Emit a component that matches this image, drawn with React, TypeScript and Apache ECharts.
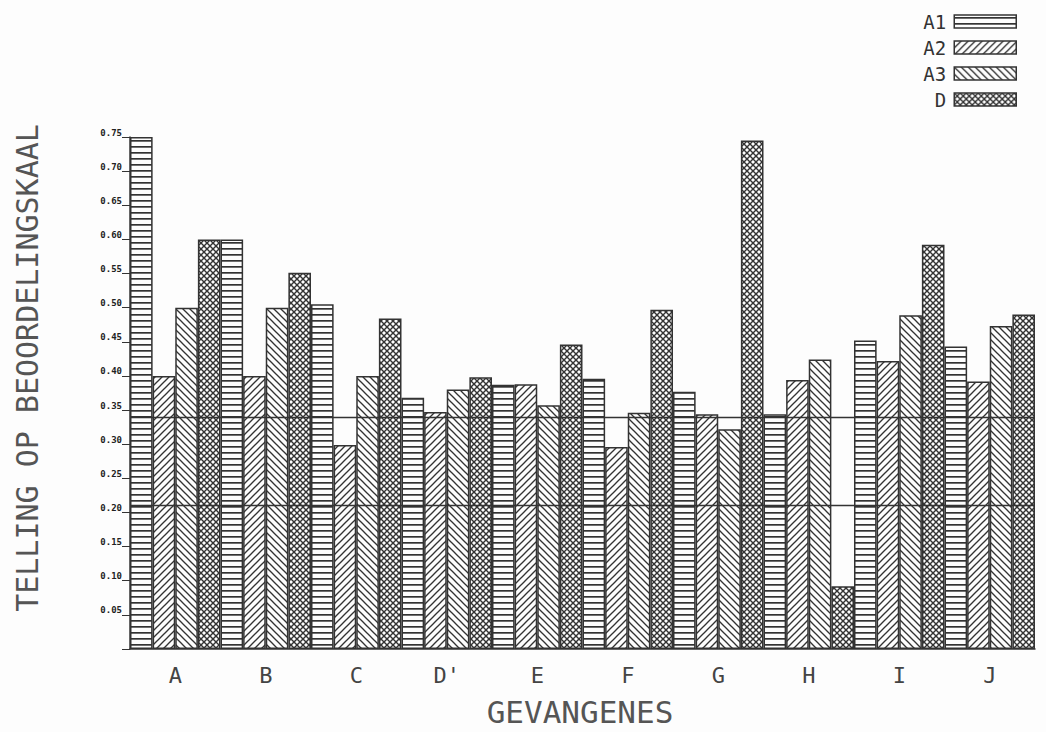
import React, { useEffect, useRef } from "react";
import * as echarts from "echarts";

const categories = ["A", "B", "C", "D'", "E", "F", "G", "H", "I", "J"];
const seriesNames = ["A1", "A2", "A3", "D"];
const valuesA1 = [0.75, 0.6, 0.505, 0.368, 0.387, 0.396, 0.377, 0.344, 0.452, 0.443];
const valuesA2 = [0.4, 0.4, 0.299, 0.347, 0.388, 0.296, 0.344, 0.394, 0.422, 0.392];
const valuesA3 = [0.5, 0.5, 0.4, 0.38, 0.357, 0.346, 0.322, 0.424, 0.489, 0.473];
const valuesD = [0.6, 0.551, 0.484, 0.398, 0.446, 0.497, 0.745, 0.092, 0.592, 0.49];
const referenceLines = [0.335, 0.215];
const yMin = 0;
const yMax = 0.75;
const yStep = 0.05;
const yAxisTitle = "TELLING OP BEOORDELINGSKAAL";
const xAxisTitle = "GEVANGENES";

const INK = "#333";
const PAPER = "#fdfdfd";
const MONO = "DejaVu Sans Mono";

function pattern(inner: string, w: number, h: number) {
  const svg =
    `<svg xmlns="http://www.w3.org/2000/svg" width="${w}" height="${h}">` +
    `<rect width="${w}" height="${h}" fill="${PAPER}"/>${inner}</svg>`;
  return {
    image: "data:image/svg+xml;charset=utf-8," + encodeURIComponent(svg),
    repeat: "repeat",
    imageWidth: w,
    imageHeight: h,
  };
}

const patHoriz = pattern(`<rect x="0" y="2" width="6" height="1.7" fill="${INK}"/>`, 6, 6);
const patSlash = pattern(
  `<g stroke="${INK}" stroke-width="1.3"><line x1="0" y1="7" x2="7" y2="0"/><line x1="-1" y1="1" x2="1" y2="-1"/><line x1="6" y1="8" x2="8" y2="6"/></g>`,
  7,
  7
);
const patBack = pattern(
  `<g stroke="${INK}" stroke-width="1.3"><line x1="0" y1="0" x2="7" y2="7"/><line x1="-1" y1="6" x2="1" y2="8"/><line x1="6" y1="-1" x2="8" y2="1"/></g>`,
  7,
  7
);
const patCross = pattern(
  `<g stroke="${INK}" stroke-width="1.4"><line x1="0" y1="0" x2="6" y2="6"/><line x1="0" y1="6" x2="6" y2="0"/><line x1="-1" y1="5" x2="1" y2="7"/><line x1="5" y1="-1" x2="7" y2="1"/><line x1="-1" y1="1" x2="1" y2="-1"/><line x1="5" y1="7" x2="7" y2="5"/></g>`,
  6,
  6
);

const seriesValues = [valuesA1, valuesA2, valuesA3, valuesD];
const seriesPatterns = [patHoriz, patSlash, patBack, patCross];

export default function App() {
  const ref = useRef<HTMLDivElement>(null);
  useEffect(() => {
    if (!ref.current) return;
    const chart = echarts.init(ref.current, undefined, { renderer: "svg" });
    const series: any[] = seriesNames.map((name, i) => ({
      name,
      type: "bar",
      data: seriesValues[i],
      barGap: "0%",
      barCategoryGap: "0%",
      itemStyle: { color: seriesPatterns[i], borderColor: INK, borderWidth: 1.5 },
      emphasis: { disabled: true },
    }));
    series[3].markLine = {
      silent: true,
      symbol: "none",
      label: { show: false },
      lineStyle: { color: INK, width: 1.3, type: "solid" },
      data: referenceLines.map((v) => ({ yAxis: v })),
      z: 10,
    };
    chart.setOption({
      animation: false,
      backgroundColor: PAPER,
      grid: { left: 130, right: 11, top: 137, bottom: 83 },
      legend: {
        data: seriesNames,
        orient: "vertical",
        right: 24,
        top: 7,
        align: "right",
        icon: "rect",
        itemWidth: 62,
        itemHeight: 13,
        itemGap: 7,
        selectedMode: false,
        itemStyle: { borderColor: INK, borderWidth: 1.5 },
        textStyle: { fontFamily: MONO, fontSize: 19, color: "#333", padding: [0, 3, 0, 0] },
      },
      xAxis: {
        type: "category",
        data: categories,
        axisLine: { show: true, lineStyle: { color: INK, width: 1.5 } },
        axisTick: { show: false },
        axisLabel: { fontFamily: MONO, fontSize: 22, color: "#444", margin: 15 },
      },
      yAxis: {
        type: "value",
        min: yMin,
        max: yMax,
        interval: yStep,
        splitLine: { show: false },
        axisLine: { show: true, lineStyle: { color: INK, width: 1.5 } },
        axisTick: { show: true, length: 8, lineStyle: { color: INK, width: 1 } },
        axisLabel: {
          margin: 8,
          fontFamily: MONO,
          fontSize: 9,
          fontWeight: "bold",
          color: "#222",
          verticalAlign: "bottom",
          formatter: (v: number) => (v === 0 ? "" : v.toFixed(2)),
        },
      },
      graphic: [
        {
          type: "text",
          x: 27,
          y: 368,
          rotation: Math.PI / 2,
          style: {
            text: yAxisTitle,
            fontFamily: MONO,
            fontSize: 30,
            fill: "#555",
            textAlign: "center",
            textVerticalAlign: "middle",
          },
        },
        {
          type: "text",
          x: 580,
          y: 712,
          style: {
            text: xAxisTitle,
            fontFamily: MONO,
            fontSize: 31,
            fill: "#555",
            textAlign: "center",
            textVerticalAlign: "middle",
          },
        },
      ],
      series,
    });
    return () => chart.dispose();
  }, []);
  return (
    <div
      ref={ref}
      style={{ position: "absolute", left: 0, top: 0, width: 1046, height: 732 }}
    />
  );
}
